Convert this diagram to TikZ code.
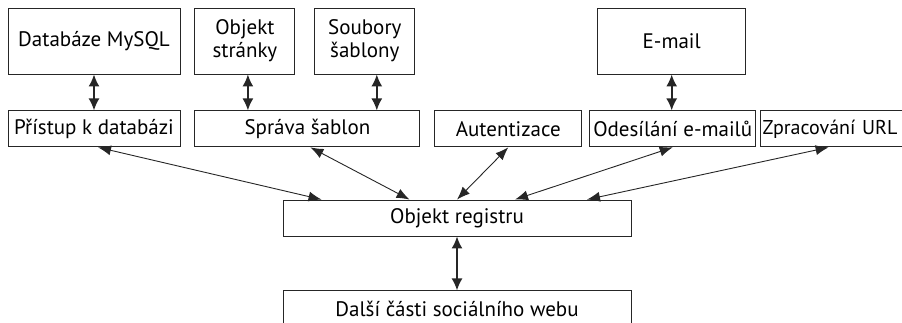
\documentclass[tikz,border=0pt]{standalone}
\usepackage{fontspec}
\setmainfont{PT Sans}
\usetikzlibrary{positioning, arrows.meta}
\tikzstyle{block} = [rectangle, draw=black!85, line width=0.9pt, inner sep=2pt, align=center, font=\fontsize{21}{23}\selectfont]
\tikzstyle{tallblock} = [block, minimum height=66pt]
\tikzstyle{lowblock} = [block, minimum height=36pt]
\tikzstyle{arrow} = [<->, >={Latex[length=13pt,width=10pt]}, line width=0.9pt, draw=black!85]
\tikzstyle{thickarrow} = [arrow, line width=1.7pt, >={Latex[length=12pt,width=11pt]}]

\begin{document}
\begin{tikzpicture}[x=1pt, y=-1pt, node distance=14pt]
    \useasboundingbox (0,0) rectangle (902,323);

    % data sources
    \node (mysql) [tallblock, minimum width=172pt] at (94,41) {Databáze MySQL};
    \node (objekt) [tallblock, minimum width=100pt, right=of mysql] {Objekt\\stránky};
    \node (soubory) [tallblock, minimum width=100pt, right=19pt of objekt] {Soubory\\šablony};
    \node (email) [tallblock, minimum width=148pt, right=182pt of soubory] {E-mail};

    % modules
    \node (pristup) [lowblock, minimum width=172pt, below=36pt of mysql] {Přístup k databázi};
    \node (sprava) [lowblock, minimum width=225pt, right=of pristup] {Správa šablon};
    \node (autent) [lowblock, minimum width=147pt, right=of sprava] {Autentizace};
    \node (odesilani) [lowblock, minimum width=166pt, right=7pt of autent] {Odesílání e-mailů};
    \node (url) [lowblock, text width=144pt, inner xsep=2pt, align=left, font=\fontsize{20}{23}\selectfont, right=4pt of odesilani] {Zpracování URL};

    % registry
    \node (registr) [lowblock, minimum width=348pt] at (457,218) {Objekt registru};
    \node (dalsi) [lowblock, minimum width=348pt, below=54pt of registr] {Další části sociálního webu};

    \draw [thickarrow] (mysql) -- (pristup);
    \draw [thickarrow] ([xshift=3pt]objekt.south) -- ([xshift=3pt]objekt.south |- sprava.north);
    \draw [thickarrow] ([xshift=12pt]soubory.south) -- ([xshift=12pt]soubory.south |- sprava.north);
    \draw [thickarrow] (email) -- (email |- odesilani.north);
    \draw [thickarrow] (registr) -- (dalsi);

    \draw [arrow] ([xshift=4pt]pristup.south) -- ([xshift=39pt]registr.north west);
    \draw [arrow] ([xshift=3pt]sprava.south) -- ([xshift=127pt]registr.north west);
    \draw [arrow] (autent.south) -- (registr.north);
    \draw [arrow] (odesilani.south) -- ([xshift=58pt]registr.north);
    \draw [arrow] ([xshift=-6pt]url.south) -- ([xshift=130pt]registr.north);
\end{tikzpicture}
\end{document}
